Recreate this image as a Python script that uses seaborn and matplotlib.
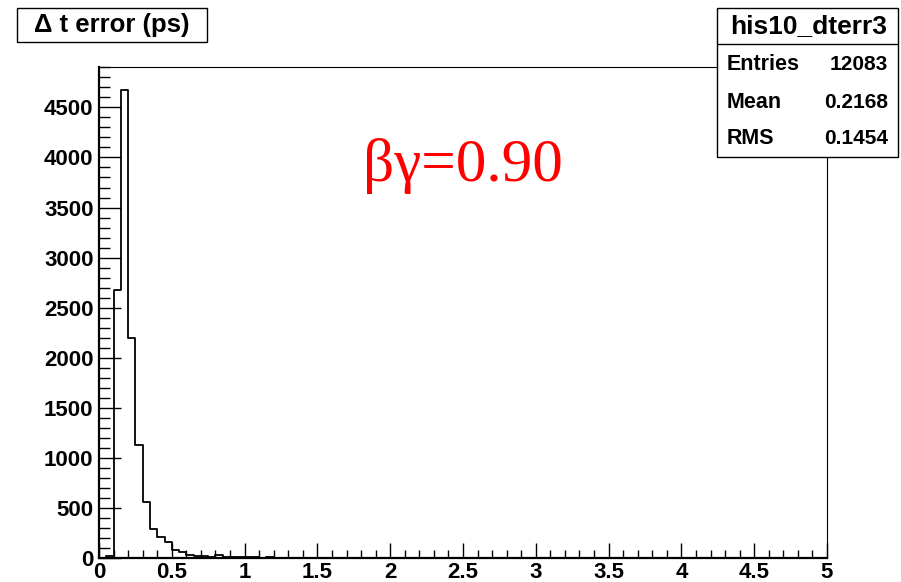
import numpy as np
import pandas as pd
import matplotlib
matplotlib.use("Agg")
import matplotlib.pyplot as plt
from matplotlib.patches import Rectangle
from matplotlib.ticker import FixedLocator, MultipleLocator
import seaborn as sns

# Histogram of the time-difference error, 100 bins from 0 to 5 ps
bin_edges = [round(0.05 * i, 2) for i in range(101)]
bin_counts = [
    0, 20, 2680, 4670, 2202, 1128, 562, 286, 206, 156,
    83, 57, 33, 20, 20, 13, 27, 13, 9, 7,
    6, 5, 4, 5, 3, 4, 3, 2, 3, 2,
    2, 2, 1, 2, 1, 1, 2, 1, 1, 1,
    2, 1, 1, 0, 1, 1, 0, 1, 0, 1,
    1, 0, 0, 1, 0, 0, 1, 0, 0, 1,
    0, 1, 0, 0, 0, 1, 0, 0, 1, 0,
    0, 0, 1, 0, 0, 0, 0, 1, 0, 0,
    0, 0, 0, 1, 0, 0, 0, 0, 1, 0,
    0, 0, 0, 0, 0, 1, 0, 0, 0, 0,
]

x_ticks = [0, 0.5, 1, 1.5, 2, 2.5, 3, 3.5, 4, 4.5, 5]
x_tick_labels = ["0", "0.5", "1", "1.5", "2", "2.5", "3", "3.5", "4", "4.5", "5"]
y_ticks = [0, 500, 1000, 1500, 2000, 2500, 3000, 3500, 4000, 4500]
y_tick_labels = ["0", "500", "1000", "1500", "2000", "2500", "3000", "3500", "4000", "4500"]

hist_title = "\u0394 t error (ps)"
stats_name = "his10_dterr3"
stats_rows = [("Entries", "12083"), ("Mean", "0.2168"), ("RMS", "0.1454")]
annotation = "\u03b2\u03b3=0.90"

sns.set_style("white")
plt.rcParams["font.family"] = ["Liberation Sans", "DejaVu Sans"]
plt.rcParams["text.color"] = "black"
plt.rcParams["xtick.color"] = "black"
plt.rcParams["ytick.color"] = "black"
plt.rcParams["axes.edgecolor"] = "black"

W, H = 901, 582
fig = plt.figure(figsize=(W / 100, H / 100), dpi=100)
fig.patch.set_facecolor("white")


def fx(px):
    return px / W


def fy(py):
    return 1 - py / H


ax_left, ax_right, ax_top, ax_bottom = 99, 827, 67, 558
ax = fig.add_axes([fx(ax_left), fy(ax_bottom), (ax_right - ax_left) / W, (ax_bottom - ax_top) / H])

centers = [0.5 * (a + b) for a, b in zip(bin_edges[:-1], bin_edges[1:])]
df = pd.DataFrame({"dt_err": centers, "n": bin_counts})
sns.histplot(data=df, x="dt_err", weights="n", bins=bin_edges, element="step",
             fill=False, color="black", linewidth=1.3, ax=ax)

ax.set_xlim(0, 5)
ax.set_ylim(0, 1.05 * max(bin_counts))
ax.set_xlabel("")
ax.set_ylabel("")

ax.xaxis.set_major_locator(FixedLocator(x_ticks))
ax.set_xticklabels(x_tick_labels)
ax.xaxis.set_minor_locator(MultipleLocator(0.1))
ax.yaxis.set_major_locator(FixedLocator(y_ticks))
ax.set_yticklabels(y_tick_labels)
ax.yaxis.set_minor_locator(MultipleLocator(100))

ax.tick_params(axis="x", which="major", direction="in", length=11, width=1, pad=3,
               labelsize=16, bottom=True, top=False, colors="black")
ax.tick_params(axis="x", which="minor", direction="in", length=5.5, width=1, bottom=True, top=False)
ax.tick_params(axis="y", which="major", direction="in", length=15.5, width=1, pad=4,
               labelsize=16, left=True, right=False, colors="black")
ax.tick_params(axis="y", which="minor", direction="in", length=8, width=1, left=True, right=False)
for lbl in ax.get_xticklabels() + ax.get_yticklabels():
    lbl.set_fontweight("bold")
    lbl.set_color("black")

for side in ["left", "bottom"]:
    ax.spines[side].set_linewidth(1.6)
    ax.spines[side].set_color("black")
for side in ["top", "right"]:
    ax.spines[side].set_linewidth(0.8)
    ax.spines[side].set_color("black")
    ax.spines[side].set_visible(True)

# Title box
fig.add_artist(Rectangle((fx(17), fy(42)), (207 - 17) / W, (42 - 8) / H,
                         transform=fig.transFigure, facecolor="white",
                         edgecolor="black", linewidth=1.0, zorder=5))
fig.text(fx(112), fy(25), hist_title, ha="center", va="center",
         fontsize=18.5, fontweight="bold", zorder=6)

# Statistics box
bx0, bx1, by0, by1, bsep = 717, 898, 8, 157, 44
fig.add_artist(Rectangle((fx(bx0), fy(by1)), (bx1 - bx0) / W, (by1 - by0) / H,
                         transform=fig.transFigure, facecolor="white",
                         edgecolor="black", linewidth=1.0, zorder=5))
fig.add_artist(plt.Line2D([fx(bx0), fx(bx1)], [fy(bsep), fy(bsep)],
                          transform=fig.transFigure, color="black", linewidth=1.0, zorder=6))
fig.text(fx((bx0 + bx1) / 2 + 1), fy(26), stats_name, ha="center", va="center",
         fontsize=19, fontweight="bold", zorder=6)
for (name, val), yc in zip(stats_rows, [64, 102, 139]):
    fig.text(fx(727), fy(yc), name, ha="left", va="center",
             fontsize=15.5, fontweight="bold", zorder=6)
    fig.text(fx(888), fy(yc), val, ha="right", va="center",
             fontsize=15, fontweight="bold", zorder=6)

# Annotation
fig.text(fx(363), fy(181), annotation, ha="left", va="baseline", color="red",
         fontsize=44, family=["Liberation Serif", "DejaVu Serif"], zorder=6)

fig.savefig("out.png", dpi=100, facecolor="white")
